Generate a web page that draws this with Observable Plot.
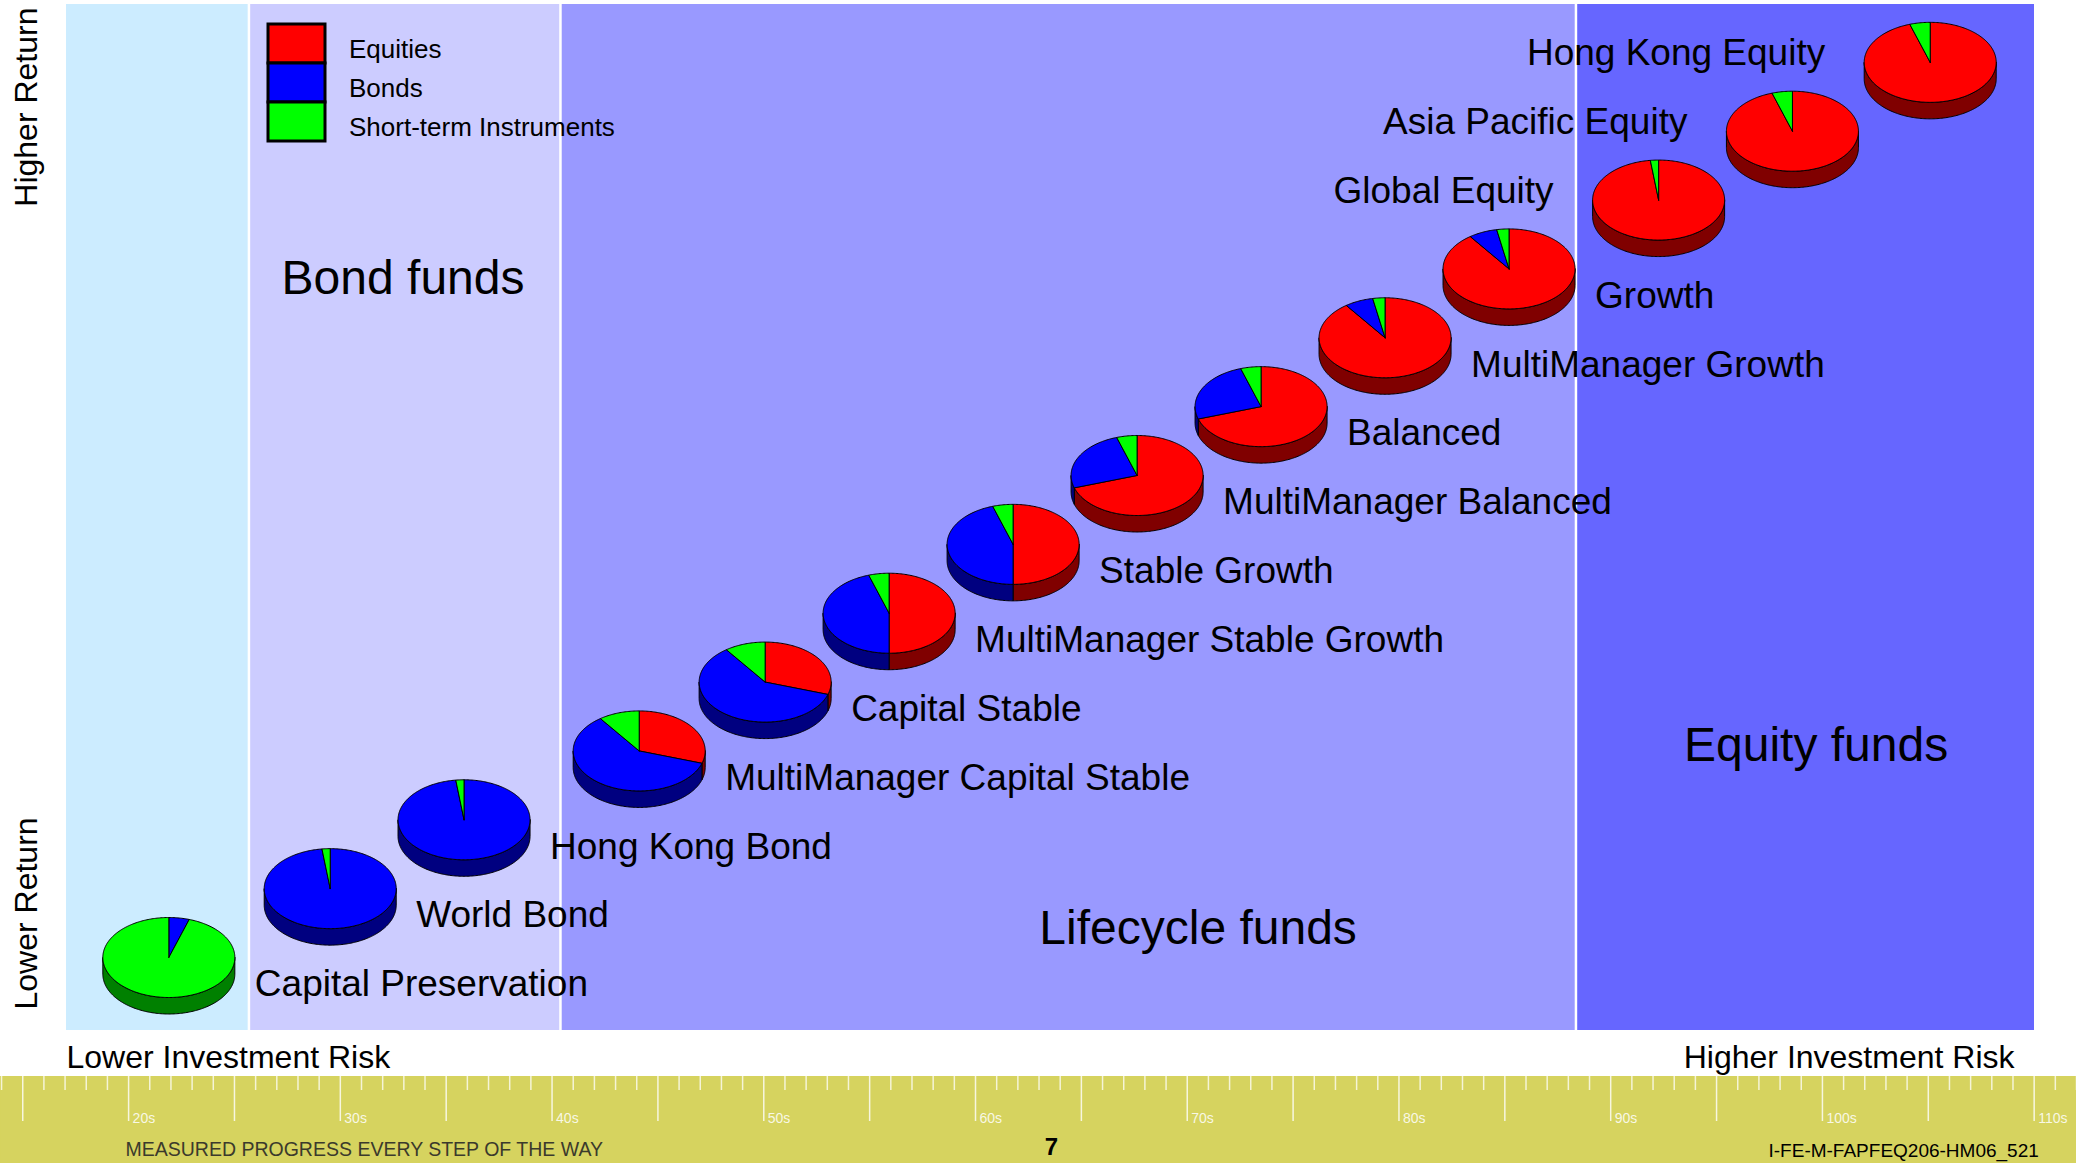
<!DOCTYPE html>
<html><head><meta charset="utf-8">
<script src="https://cdn.jsdelivr.net/npm/d3@7"></script>
<script src="https://cdn.jsdelivr.net/npm/@observablehq/plot@0.6"></script>
<style>
html, body { margin:0; padding:0; background:#fff; }
#chart { position: relative; width: 2076px; }
#chart > svg { display:block; }
.fundlegend-swatch { padding-bottom: 0 !important; }
.fundlegend-swatch > svg { margin-right: 24px !important; overflow: visible !important; }
.fundlegend-swatch > svg rect { stroke: #000; stroke-width: 3px; }
.fundlegend-swatch-label { position: relative; top: 6px; color: #000; overflow: visible !important; }
</style>
</head><body><div id="chart"></div>
<script>
// ---------------- data ----------------
const funds = ["Capital Preservation","World Bond","Hong Kong Bond","MultiManager Capital Stable","Capital Stable",
  "MultiManager Stable Growth","Stable Growth","MultiManager Balanced","Balanced","MultiManager Growth","Growth",
  "Global Equity","Asia Pacific Equity","Hong Kong Equity"];
const fundGroup = ["Capital Preservation","Bond","Bond","Lifecycle","Lifecycle","Lifecycle","Lifecycle","Lifecycle",
  "Lifecycle","Lifecycle","Lifecycle","Equity","Equity","Equity"];
// investment risk (0 = lowest, 100 = highest) and return rank
const risk = [5.2, 13.4, 20.2, 29.1, 35.5, 41.8, 48.1, 54.4, 60.7, 67.0, 73.3, 80.9, 87.7, 94.7];
const returnRank = [1, 2, 3, 4, 5, 6, 7, 8, 9, 10, 11, 12, 13, 14];
// asset allocation (%)
const components = ["Equities", "Bonds", "Short-term Instruments"];
const equities  = [0, 0, 0, 30, 30, 50, 50, 70, 70, 90, 90, 98, 95, 95];
const bonds     = [5, 98, 98, 60, 60, 45, 45, 25, 25, 7, 7, 0, 0, 0];
const shortTerm = [95, 2, 2, 10, 10, 5, 5, 5, 5, 3, 3, 2, 5, 5];
// fund-type bands along the risk axis
const bandNames = ["", "Bond funds", "Lifecycle funds", "Equity funds"];
const bandStart = [0, 9.27, 25.1, 76.7];
const bandEnd = [9.27, 25.1, 76.7, 100];
const bandLabelRisk = [null, 17.1, 57.5, 88.9];
const bandLabelReturn = [null, 10.86, 1.42, 4.08];
// age ruler
const rulerYears = d3.range(14, 113);
const rulerDecades = [20, 30, 40, 50, 60, 70, 80, 90, 100, 110];

// ---------------- style ----------------
const FONT = "'Liberation Sans', Arial, Helvetica, sans-serif";
const topColor = {"Equities": "#ff0000", "Bonds": "#0000ff", "Short-term Instruments": "#00ff00"};
const sideColor = {"Equities": "#800000", "Bonds": "#000080", "Short-term Instruments": "#008000"};
const bandColor = ["#ccecff", "#ccccff", "#9999ff", "#6666ff"];
const W = 2076, H = 1076;
const mL = 66, mR = 42, mT = 4, mB = 46;
const xDomain = [0, 100], yDomain = [-0.06, 14.84];
const xRange = [mL, W - mR], yRange = [H - mB, mT];
const RX = 66, RY = 40, DEPTH = 16.5;

const X = Plot.scale({x: {domain: xDomain, range: xRange}});
const Y = Plot.scale({y: {domain: yDomain, range: yRange}});

// ---------------- pie geometry (through the scales) ----------------
const polys = [];
let pid = 0;
for (let i = funds.length - 1; i >= 0; --i) {
  const shares = [equities[i], bonds[i], shortTerm[i]];
  const total = d3.sum(shares);
  const cx = X.apply(risk[i]), cy = Y.apply(returnRank[i]);
  const pt = (t, drop) => ({x: X.invert(cx + RX * Math.sin(t)), y: Y.invert(cy - RY * Math.cos(t) + drop)});
  const arcs = [];
  let a = 0;
  shares.forEach((s, k) => {
    if (s > 0) { const b = a + s / total * 2 * Math.PI; arcs.push({c: components[k], a0: a, a1: b}); a = b; }
  });
  // side walls (front half only)
  for (const {c, a0, a1} of arcs) {
    const lo = Math.max(a0, Math.PI / 2), hi = Math.min(a1, 3 * Math.PI / 2);
    if (hi <= lo) continue;
    const id = pid++, fill = sideColor[c];
    const n = Math.max(2, Math.ceil((hi - lo) / 0.02));
    const pts = [];
    for (let j = 0; j <= n; ++j) pts.push(pt(lo + (hi - lo) * j / n, 0));
    for (let j = n; j >= 0; --j) pts.push(pt(lo + (hi - lo) * j / n, DEPTH));
    pts.push(pts[0]);
    pts.forEach(p => polys.push({id, fill, ...p}));
  }
  // top wedges
  for (const {c, a0, a1} of arcs) {
    const id = pid++, fill = topColor[c];
    const n = Math.max(2, Math.ceil((a1 - a0) / 0.02));
    const center = {x: risk[i], y: returnRank[i]};
    polys.push({id, fill, ...center});
    for (let j = 0; j <= n; ++j) polys.push({id, fill, ...pt(a0 + (a1 - a0) * j / n, 0)});
    polys.push({id, fill, ...center});
  }
}

const fundRows = funds.map((name, i) => ({name, group: fundGroup[i], risk: risk[i], ret: returnRank[i]}));
const bands = bandNames.map((name, i) => ({name, x1: bandStart[i], x2: bandEnd[i], fill: bandColor[i],
  lx: bandLabelRisk[i], ly: bandLabelReturn[i]}));

const chart = Plot.plot({
  width: W, height: H,
  marginLeft: mL, marginRight: mR, marginTop: mT, marginBottom: mB,
  x: {domain: xDomain, range: xRange, axis: null},
  y: {domain: yDomain, range: yRange, axis: null},
  style: {fontFamily: FONT, background: "#fff", color: "#000"},
  marks: [
    Plot.rect(bands, {x1: "x1", x2: "x2", fill: "fill"}),
    Plot.ruleX(bandStart.slice(1), {x: d => d, stroke: "#fff", strokeWidth: 2.5}),
    Plot.text(bands.filter(d => d.name), {x: "lx", y: "ly", text: "name", fontSize: 48, fill: "#000"}),
    Plot.line(polys, {x: "x", y: "y", z: "id", fill: "fill", stroke: "#000", strokeWidth: 1,
      strokeLinejoin: "round", curve: "linear"}),
    Plot.text(fundRows.filter(d => d.group !== "Equity"), {x: "risk", y: "ret", text: "name",
      dx: 86, dy: 27, textAnchor: "start", fontSize: 37, fill: "#000"}),
    Plot.text(fundRows.filter(d => d.group === "Equity"), {x: "risk", y: "ret", text: "name",
      dx: -105, dy: -9, textAnchor: "end", fontSize: 37, fill: "#000"}),
    Plot.text(["Lower Investment Risk"], {frameAnchor: "bottom-left", dy: 27, textAnchor: "start", lineAnchor: "middle", fontSize: 32, fill: "#000"}),
    Plot.text(["Higher Investment Risk"], {frameAnchor: "bottom-right", dx: -20, dy: 27, textAnchor: "end", lineAnchor: "middle", fontSize: 32, fill: "#000"}),
    Plot.text(["Higher Return"], {frameAnchor: "top-left", dx: -40, dy: 3, rotate: -90, textAnchor: "end", lineAnchor: "middle", fontSize: 32, fill: "#000"}),
    Plot.text(["Lower Return"], {frameAnchor: "bottom-left", dx: -40, dy: -21, rotate: -90, textAnchor: "start", lineAnchor: "middle", fontSize: 32, fill: "#000"})
  ]
});

const footer = Plot.plot({
  width: W, height: 87, margin: 0,
  x: {domain: [13.95, 112], range: [0, W], axis: null},
  style: {fontFamily: FONT, background: "#d6d35f"},
  marks: [
    Plot.frame({fill: "#d6d35f", stroke: null}),
    Plot.ruleX(rulerYears.filter(a => a % 5 !== 0), {x: d => d, stroke: "#fff", strokeOpacity: 0.75, strokeWidth: 1.5, insetBottom: 73}),
    Plot.ruleX(rulerYears.filter(a => a % 5 === 0), {x: d => d, stroke: "#fff", strokeOpacity: 0.8, strokeWidth: 1.5, insetBottom: 42}),
    Plot.text(rulerDecades, {x: d => d, text: d => `${d}s`, frameAnchor: "top", dx: 4, dy: 42, textAnchor: "start",
      lineAnchor: "middle", fill: "#fff", fillOpacity: 0.85, fontSize: 14}),
    Plot.text(["MEASURED PROGRESS EVERY STEP OF THE WAY"], {frameAnchor: "top-left", dx: 125, dy: 73, textAnchor: "start",
      lineAnchor: "middle", fontSize: 19.5, fill: "#3b3a2c"}),
    Plot.text(["7"], {frameAnchor: "top-left", dx: 1051, dy: 71, lineAnchor: "middle", textAnchor: "middle", fontSize: 24, fontWeight: "bold", fill: "#000"}),
    Plot.text(["I-FE-M-FAPFEQ206-HM06_521"], {frameAnchor: "top-left", dx: 1768, dy: 74, textAnchor: "start", lineAnchor: "middle", fontSize: 19, fill: "#000"})
  ]
});

const legend = Plot.legend({
  color: {type: "ordinal", domain: components, range: components.map(c => topColor[c])},
  legend: "swatches", columns: 1, swatchWidth: 57, swatchHeight: 39, className: "fundlegend"
});
legend.style.position = "absolute";
legend.style.left = "268px";
legend.style.top = "24px";
legend.style.margin = "0";
legend.style.fontFamily = FONT;
legend.style.fontSize = "26px";
legend.style.color = "#000";

const root = document.getElementById("chart");
root.appendChild(chart);
root.appendChild(footer);
root.appendChild(legend);
</script>
</body></html>
